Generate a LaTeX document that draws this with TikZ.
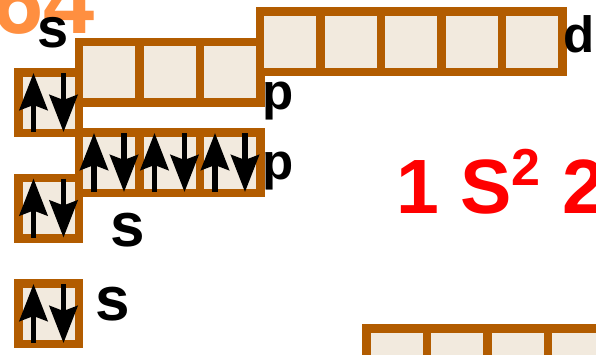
\documentclass[tikz,border=0pt]{standalone}
\usepackage{fontspec}
\setmainfont{Liberation Sans}
\usepackage{tikz}
\usetikzlibrary{arrows.meta,positioning,calc}
\definecolor{cellbrown}{RGB}{178,92,0}
\definecolor{cellfill}{RGB}{242,234,222}
\definecolor{titleorange}{RGB}{255,143,64}
\newcommand{\spinpair}[1]{%
  \draw[spin] ($(#1.center)+(-15,29.5)$) -- ($(#1.center)+(-15,-29.5)$);
  \draw[spin] ($(#1.center)+(15,-29.5)$) -- ($(#1.center)+(15,29.5)$);}

\begin{document}
\begin{tikzpicture}[
    x=1pt, y=-1pt,
    node distance=0pt,
    cell/.style={draw=cellbrown, fill=cellfill, line width=8.5pt, minimum size=60.5pt, inner sep=0pt, outer sep=0pt},
    spin/.style={-{Stealth[length=37pt,width=28pt,inset=5pt]}, line width=5.5pt},
    sublabel/.style={font=\bfseries\fontsize{51}{51}\selectfont, inner sep=0pt},
    subbig/.style={font=\bfseries\fontsize{62}{62}\selectfont, inner sep=0pt}
]
\useasboundingbox (0,0) rectangle (596,354);

\node[anchor=base west, inner sep=0pt, text=titleorange, font=\bfseries\fontsize{92}{92}\selectfont] (title) at (-8,33) {64};

% third shell
\node[cell] (s3) at (48.5,102.5) {};
\node[cell] (p3a) at (109,72) {};
\node[cell, right=of p3a] (p3b) {};
\node[cell, right=of p3b] (p3c) {};
\node[cell] (d3a) at (290,41.5) {};
\node[cell, right=of d3a] (d3b) {};
\node[cell, right=of d3b] (d3c) {};
\node[cell, right=of d3c] (d3d) {};
\node[cell, right=of d3d] (d3e) {};

% second shell
\node[cell] (s2) at (48.5,208) {};
\node[cell] (p2a) at (109,162.5) {};
\node[cell, right=of p2a] (p2b) {};
\node[cell, right=of p2b] (p2c) {};

% first shell
\node[cell] (s1) at (48.5,313.5) {};

% fourth row, cut off
\node[cell] (r4a) at (396.5,358.5) {};
\node[cell, right=of r4a] (r4b) {};
\node[cell, right=of r4b] (r4c) {};
\node[cell, right=of r4c] (r4d) {};

\spinpair{s1}
\spinpair{s2}
\spinpair{p2a}
\spinpair{p2b}
\spinpair{p2c}
\spinpair{s3}

\node[sublabel, font=\bfseries\fontsize{56}{56}\selectfont] (lbs3) at (53.5,32.5) {s};
\node[sublabel] (lbp3) at (278,101.5) {p};
\node[sublabel] (lbd3) at (579.5,34) {d};
\node[sublabel] (lbp2) at (278,171) {p};
\node[subbig] (lbs2) at (128,230) {s};
\node[subbig] (lbs1) at (112.5,304.5) {s};

\node[anchor=base west, inner sep=0pt, text=red, font=\bfseries\fontsize{77}{77}\selectfont] (formula) at (396,213) {1 S\raisebox{28pt}{\fontsize{52}{52}\selectfont 2} 2};
\end{tikzpicture}
\end{document}
